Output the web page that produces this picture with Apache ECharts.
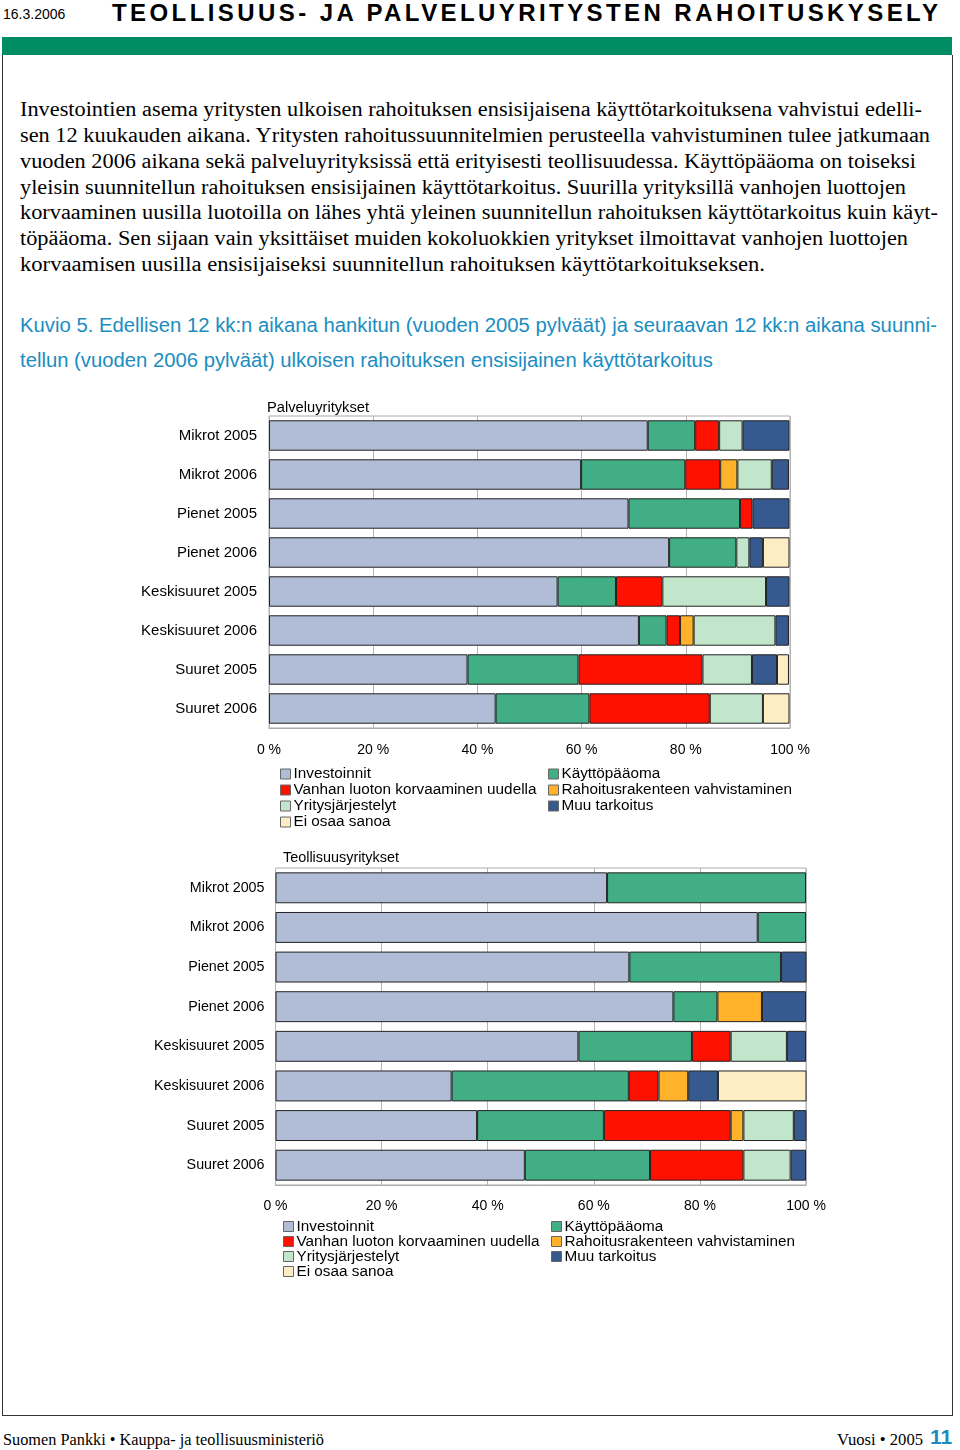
<!DOCTYPE html>
<html>
<head>
<meta charset="utf-8">
<script src="https://cdn.jsdelivr.net/npm/echarts@6/dist/echarts.min.js"></script>
<style>
  html, body { margin: 0; padding: 0; background: #fff; }
  body { width: 960px; height: 1450px; position: relative; overflow: hidden; }
  .abs { position: absolute; white-space: nowrap; }
  .fit { transform-origin: 0 50%; }
  .para { font-family: "Liberation Serif", "Times New Roman", serif; font-size: 20px; color: #000; height: 26px; line-height: 26px; }
  .cap { font-family: "Liberation Sans", Arial, sans-serif; font-size: 20px; color: #1b8dbf; height: 26px; line-height: 26px; }
  #chart { position: absolute; left: 0; top: 0; width: 960px; height: 1450px; }
</style>
</head>
<body>
<div class="abs" style="left:3px;top:5px;font-family:'Liberation Sans',Arial,sans-serif;font-size:14px;line-height:18px;">16.3.2006</div>
<div class="abs" id="title" style="left:112px;top:0px;font-family:'Liberation Sans',Arial,sans-serif;font-weight:bold;font-size:24px;line-height:26px;" data-ls="826">TEOLLISUUS- JA PALVELUYRITYSTEN RAHOITUSKYSELY</div>
<div class="abs" style="left:2px;top:37px;width:950px;height:18px;background:#008c64;"></div>
<div class="abs" style="left:2px;top:55px;width:949px;height:1360px;border:1px solid #333;border-top:none;"></div>

<div class="abs para fit" style="left:20px;top:96px;" data-w="902">Investointien asema yritysten ulkoisen rahoituksen ensisijaisena käyttötarkoituksena vahvistui edelli-</div>
<div class="abs para fit" style="left:20px;top:122px;" data-w="910">sen 12 kuukauden aikana. Yritysten rahoitussuunnitelmien perusteella vahvistuminen tulee jatkumaan</div>
<div class="abs para fit" style="left:20px;top:148px;" data-w="896">vuoden 2006 aikana sekä palveluyrityksissä että erityisesti teollisuudessa. Käyttöpääoma on toiseksi</div>
<div class="abs para fit" style="left:20px;top:174px;" data-w="886">yleisin suunnitellun rahoituksen ensisijainen käyttötarkoitus. Suurilla yrityksillä vanhojen luottojen</div>
<div class="abs para fit" style="left:20px;top:199px;" data-w="918">korvaaminen uusilla luotoilla on lähes yhtä yleinen suunnitellun rahoituksen käyttötarkoitus kuin käyt-</div>
<div class="abs para fit" style="left:20px;top:225px;" data-w="888">töpääoma. Sen sijaan vain yksittäiset muiden kokoluokkien yritykset ilmoittavat vanhojen luottojen</div>
<div class="abs para fit" style="left:20px;top:251px;" data-w="745">korvaamisen uusilla ensisijaiseksi suunnitellun rahoituksen käyttötarkoitukseksen.</div>

<div class="abs cap fit" style="left:20px;top:312px;" data-w="917">Kuvio 5. Edellisen 12 kk:n aikana hankitun (vuoden 2005 pylväät) ja seuraavan 12 kk:n aikana suunni-</div>
<div class="abs cap fit" style="left:20px;top:347px;" data-w="693">tellun (vuoden 2006 pylväät) ulkoisen rahoituksen ensisijainen käyttötarkoitus</div>

<div class="abs fit" style="left:3px;top:1430px;font-family:'Liberation Serif','Times New Roman',serif;font-size:16px;line-height:20px;" data-w="321">Suomen Pankki • Kauppa- ja teollisuusministeriö</div>
<div class="abs fit" style="left:837px;top:1430px;font-family:'Liberation Serif','Times New Roman',serif;font-size:16px;line-height:20px;" data-w="86">Vuosi • 2005</div>
<div class="abs" style="left:930px;top:1425px;font-family:'Liberation Sans',Arial,sans-serif;font-weight:bold;font-size:21px;line-height:24px;color:#1b8dbf;">11</div>

<div id="chart"></div>
<script>
// ---------- data ----------
const categories = ['Mikrot 2005', 'Mikrot 2006', 'Pienet 2005', 'Pienet 2006',
  'Keskisuuret 2005', 'Keskisuuret 2006', 'Suuret 2005', 'Suuret 2006'];
const seriesNames = ['Investoinnit', 'Käyttöpääoma', 'Vanhan luoton korvaaminen uudella',
  'Rahoitusrakenteen vahvistaminen', 'Yritysjärjestelyt', 'Muu tarkoitus', 'Ei osaa sanoa'];
const xTicks = [0, 20, 40, 60, 80, 100];

// Palveluyritykset (%)
const palveluInvestoinnit   = [72.7, 59.9, 69.0, 76.8, 55.4, 71.0, 38.1, 43.5];
const palveluKayttopaaoma   = [9.1, 20.0, 21.4, 12.9, 11.2, 5.3, 21.3, 18.0];
const palveluVanhanLuoton   = [4.6, 6.7, 2.4, 0, 8.9, 2.6, 23.8, 23.1];
const palveluRahoitusrak    = [0, 3.3, 0, 0, 0, 2.6, 0, 0];
const palveluYritysjarj     = [4.5, 6.6, 0, 2.5, 19.9, 15.7, 9.5, 10.2];
const palveluMuu            = [9.0, 3.3, 7.1, 2.6, 4.5, 2.6, 4.8, 0];
const palveluEiOsaa         = [0, 0, 0, 5.1, 0, 0, 2.3, 5.1];

// Teollisuusyritykset (%)
const teollInvestoinnit     = [62.5, 90.9, 66.7, 75.0, 57.1, 33.2, 38.0, 47.0];
const teollKayttopaaoma     = [37.5, 9.1, 28.6, 8.3, 21.4, 33.4, 23.9, 23.6];
const teollVanhanLuoton     = [0, 0, 0, 0, 7.3, 5.6, 23.9, 17.6];
const teollRahoitusrak      = [0, 0, 0, 8.4, 0, 5.6, 2.4, 0];
const teollYritysjarj       = [0, 0, 0, 0, 10.6, 0, 9.5, 8.9];
const teollMuu              = [0, 0, 4.8, 8.3, 3.6, 5.6, 2.4, 2.9];
const teollEiOsaa           = [0, 0, 0, 0, 0, 16.7, 0, 0];

// ---------- text fitting ----------
document.querySelectorAll('[data-w]').forEach(el => {
  const target = parseFloat(el.getAttribute('data-w'));
  const w = el.getBoundingClientRect().width;
  if (w > 0) el.style.transform = 'scaleX(' + (target / w) + ')';
});
(function () {
  const el = document.getElementById('title');
  const target = parseFloat(el.getAttribute('data-ls'));
  const n = el.textContent.length;
  const w = el.getBoundingClientRect().width;
  el.style.letterSpacing = ((target - w) / (n - 1)) + 'px';
})();

// ---------- chart ----------
const colors = ['#b1bdd7', '#41ae85', '#ff1100', '#ffb22a', '#c1e6cc', '#365a8f', '#fdedc5'];
const palveluData = [palveluInvestoinnit, palveluKayttopaaoma, palveluVanhanLuoton,
  palveluRahoitusrak, palveluYritysjarj, palveluMuu, palveluEiOsaa];
const teollData = [teollInvestoinnit, teollKayttopaaoma, teollVanhanLuoton,
  teollRahoitusrak, teollYritysjarj, teollMuu, teollEiOsaa];

const font = '"Liberation Sans", Arial, sans-serif';

function makeXAxis(gridIndex, margin) {
  return {
    type: 'value', gridIndex: gridIndex, min: 0, max: 100, interval: 20,
    axisLine: { show: true, lineStyle: { color: '#aaa', width: 1 } },
    axisTick: { show: false },
    axisLabel: { formatter: '{value} %', fontSize: 14, color: '#000', fontFamily: font, margin: margin,
      customValues: xTicks },
    splitLine: { show: true, lineStyle: { color: '#b5b5b5', width: 1 } }
  };
}
function makeYAxis(gridIndex, margin, fs) {
  return {
    type: 'category', gridIndex: gridIndex, data: categories, inverse: true,
    axisLine: { show: false }, axisTick: { show: false },
    axisLabel: { fontSize: fs, color: '#000', fontFamily: font, margin: margin, padding: [3, 0, 0, 0] }
  };
}

const series = [];
[palveluData, teollData].forEach((dataSet, gi) => {
  dataSet.forEach((arr, i) => {
    series.push({
      name: seriesNames[i], type: 'bar', stack: 'total' + gi,
      xAxisIndex: gi, yAxisIndex: gi,
      barCategoryGap: '22%',
      data: arr.map(v => (v === 0 ? null : v)),
      itemStyle: { color: colors[i], borderColor: '#222', borderWidth: 1 },
      emphasis: { disabled: true },
      silent: true
    });
  });
});

function legend(left, top, names, lh) {
  return {
    left: left, top: top, orient: 'vertical', data: names, itemGap: 0,
    itemWidth: 10, itemHeight: 10, icon: 'rect', padding: 0, selectedMode: false,
    itemStyle: { borderColor: '#666', borderWidth: 1 },
    textStyle: { fontSize: 15.3, color: '#000', fontFamily: font, lineHeight: lh, padding: [0, 0, 0, -2] }
  };
}
const col1 = [seriesNames[0], seriesNames[2], seriesNames[4], seriesNames[6]];
const col2 = [seriesNames[1], seriesNames[3], seriesNames[5]];

const chart = echarts.init(document.getElementById('chart'), null, { renderer: 'canvas' });
chart.setOption({
  animation: false,
  color: colors,
  title: [
    { text: 'Palveluyritykset', left: 267, top: 400, padding: 0,
      textStyle: { fontSize: 14.7, fontWeight: 'normal', color: '#000', fontFamily: font } },
    { text: 'Teollisuusyritykset', left: 283, top: 851, padding: 0,
      textStyle: { fontSize: 14.4, fontWeight: 'normal', color: '#000', fontFamily: font } }
  ],
  grid: [
    { left: 269, top: 416, width: 521, height: 312, show: true, borderColor: '#aaa', borderWidth: 1, containLabel: false },
    { left: 275.5, top: 868, width: 530.5, height: 317, show: true, borderColor: '#aaa', borderWidth: 1, containLabel: false }
  ],
  xAxis: [makeXAxis(0, 15), makeXAxis(1, 14)],
  yAxis: [makeYAxis(0, 12, 15), makeYAxis(1, 11, 14.3)],
  legend: [
    legend(280, 766, col1, 16), legend(548, 766, col2, 16),
    legend(283, 1219, col1, 15), legend(551, 1219, col2, 15)
  ],
  series: series
});
</script>
</body>
</html>
